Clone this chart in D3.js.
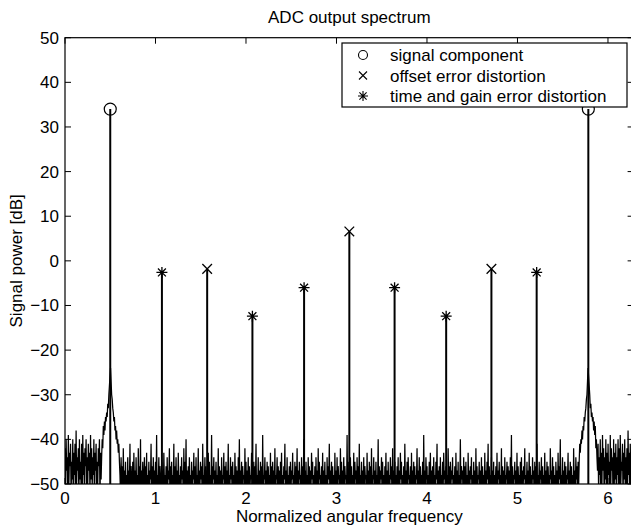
<!DOCTYPE html>
<html><head><meta charset="utf-8">
<script src="https://cdn.jsdelivr.net/npm/d3@7"></script>
<style>
body{margin:0;background:#fff;}
text{font-family:"Liberation Sans",Arial,Helvetica,sans-serif;fill:#000;}
</style></head>
<body><svg id="c" width="631" height="526"></svg>
<script>
// ---- data ----
const title = "ADC output spectrum";
const xLabel = "Normalized angular frequency";
const yLabel = "Signal power [dB]";
const xTicks = [0,1,2,3,4,5,6];
const yTicks = [-50,-40,-30,-20,-10,0,10,20,30,40,50];
const xDomain = [0, 2*Math.PI];
const yDomain = [-50, 50];

// signal component stems (circles)
const signalFreq = [0.5, 5.783];
const signalPow  = [34.0, 34.0];
// offset error distortion (x marks)
const offsetFreq = [1.571, 3.142, 4.712];
const offsetPow  = [-1.8, 6.6, -1.8];
// time and gain error distortion (asterisks)
const tgFreq = [1.071, 2.071, 2.642, 3.642, 4.212, 5.212];
const tgPow  = [-2.6, -12.4, -6.0, -6.0, -12.4, -2.6];

const legendLabels = ["signal component","offset error distortion","time and gain error distortion"];

// noise floor spectrum (1024 FFT bins over [0, 2pi)), dB
const spectrum = [
-42,-51,-40,-47,-44,-55,-39,-50,-43,-46,-41,-53,-45,-49,-40,-56,
-43,-48,-41,-52,-38,-50,-44,-47,-42,-54,-40,-49,-45,-51,-41,-57,
-39,-48,-43,-52,-42,-46,-40,-55,-44,-50,-41,-47,-43,-53,-39,-49,
-42,-51,-44,-48,-40,-56,-43,-47,-41,-52,-45,-50,-42,-46,-40,-54,
-43,-49,-44,-40,-42,-37,-39,-36,-38,-35,-36,-34,-35,-32,-33,-30,
-28,-26,-24,-27,-30,-31,-33,-34,-36,-35,-38,-37,-40,-38,-41,-40,
-43,-41,-45,-48,-53,-44,-50,-46,-55,-42,-51,-47,-52,-45,-58,-48,
-51,-44,-53,-47,-50,-41,-54,-46,-49,-52,-45,-56,-43,-50,-47,-53,
-44,-51,-48,-55,-42,-50,-46,-52,-40,-57,-47,-51,-45,-49,-53,-44,
-52,-46,-50,-43,-55,-48,-51,-45,-54,-47,-49,-41,-53,-46,-56,-44,
-50,-47,-52,-45,-51,-39,-55,-48,-50,-44,-53,-46,-49,-57,-45,-51,
-47,-54,-43,-50,-48,-52,-46,-56,-44,-51,-47,-49,-42,-55,-46,-50,
-45,-53,-48,-51,-41,-57,-46,-50,-44,-52,-47,-54,-43,-50,-48,-55,
-46,-51,-44,-49,-47,-56,-42,-52,-45,-50,-40,-54,-47,-51,-46,-53,
-44,-50,-48,-57,-45,-52,-47,-49,-43,-55,-46,-51,-44,-53,-48,-50,
-42,-56,-47,-51,-45,-49,-46,-54,-41,-52,-48,-50,-44,-57,-46,-51,
-47,-53,-43,-50,-45,-55,-48,-51,-39,-52,-46,-49,-44,-56,-47,-50,
-45,-53,-48,-51,-42,-54,-46,-50,-47,-57,-44,-52,-48,-49,-43,-55,
-46,-51,-45,-53,-47,-50,-41,-56,-48,-52,-44,-49,-46,-54,-45,-51,
-48,-55,-43,-50,-46,-52,-47,-57,-44,-51,-40,-53,-47,-50,-45,-54,
-46,-49,-48,-56,-42,-51,-45,-53,-47,-50,-44,-55,-46,-52,-48,-49,
-43,-57,-47,-51,-45,-54,-46,-50,-41,-53,-48,-51,-44,-56,-47,-52,
-45,-50,-46,-55,-39,-52,-48,-49,-44,-54,-47,-51,-45,-57,-46,-50,
-48,-53,-43,-51,-46,-56,-45,-50,-47,-52,-42,-55,-48,-49,-44,-54,
-46,-51,-47,-57,-45,-50,-43,-53,-48,-52,-46,-49,-41,-55,-47,-51,
-44,-54,-48,-50,-46,-56,-45,-52,-47,-49,-43,-53,-48,-51,-45,-57,
-46,-50,-42,-54,-47,-52,-45,-49,-48,-55,-44,-51,-46,-53,-40,-50,
-47,-56,-45,-51,-48,-53,-44,-50,-46,-54,-47,-52,-43,-49,-45,-55,
-48,-51,-46,-57,-44,-50,-47,-53,-42,-52,-45,-49,-48,-54,-46,-51,
-43,-55,-47,-50,-45,-52,-48,-56,-44,-51,-46,-49,-41,-53,-47,-50,
-45,-54,-46,-51,-48,-57,-43,-50,-47,-52,-44,-55,-46,-49,-48,-53,
-42,-51,-45,-56,-47,-50,-44,-53,-46,-49,-48,-54,-39,-52,-45,-51,
-47,-55,-44,-50,-46,-53,-48,-51,-43,-57,-45,-49,-47,-54,-44,-50,
-46,-52,-41,-55,-48,-50,-45,-53,-47,-51,-44,-56,-46,-49,-48,-54,
-43,-51,-47,-57,-45,-50,-46,-52,-42,-54,-48,-49,-44,-55,-47,-51,
-45,-53,-48,-50,-40,-56,-46,-52,-47,-49,-44,-54,-45,-51,-48,-57,
-46,-50,-43,-53,-47,-55,-45,-51,-48,-52,-44,-49,-46,-56,-42,-50,
-47,-54,-45,-51,-48,-53,-46,-50,-44,-57,-47,-52,-43,-49,-45,-55,
-48,-51,-46,-54,-41,-50,-47,-53,-45,-56,-44,-49,-48,-52,-46,-55,
-43,-51,-47,-50,-45,-57,-46,-53,-48,-49,-42,-54,-47,-51,-44,-56,
-46,-50,-48,-52,-45,-55,-39,-51,-47,-53,-44,-49,-46,-57,-48,-50,
-45,-54,-43,-51,-47,-52,-46,-56,-44,-50,-48,-53,-45,-49,-41,-55,
-47,-51,-46,-57,-44,-50,-48,-54,-45,-52,-43,-49,-47,-55,-46,-51,
-48,-53,-42,-50,-46,-56,-45,-51,-47,-49,-44,-54,-48,-52,-46,-57,
-43,-50,-47,-53,-45,-55,-48,-51,-40,-52,-46,-49,-47,-56,-44,-50,
-46,-54,-45,-51,-48,-57,-43,-50,-47,-53,-46,-49,-44,-55,-48,-52,
-45,-50,-47,-56,-42,-51,-46,-53,-48,-49,-45,-54,-47,-52,-44,-57,
-46,-50,-48,-55,-43,-51,-47,-52,-45,-49,-41,-56,-46,-50,-48,-53,
-44,-54,-47,-51,-45,-57,-48,-50,-46,-52,-43,-55,-47,-49,-45,-53,
-48,-51,-42,-56,-46,-50,-47,-54,-44,-52,-48,-49,-45,-57,-46,-51,
-47,-53,-44,-50,-39,-55,-46,-52,-48,-49,-45,-54,-47,-51,-43,-56,
-46,-50,-48,-53,-45,-57,-44,-51,-47,-52,-46,-49,-42,-55,-48,-50,
-45,-54,-47,-51,-43,-56,-46,-50,-48,-53,-44,-49,-47,-57,-45,-52,
-46,-50,-41,-55,-48,-51,-45,-53,-47,-49,-44,-56,-46,-52,-48,-50,
-43,-54,-47,-51,-45,-57,-46,-50,-48,-53,-42,-49,-47,-55,-44,-51,
-46,-52,-48,-56,-45,-50,-47,-54,-43,-51,-46,-49,-40,-55,-48,-50,
-44,-53,-47,-51,-45,-57,-46,-52,-48,-49,-43,-55,-47,-50,-45,-54,
-46,-51,-48,-56,-42,-50,-47,-53,-44,-49,-46,-55,-45,-51,-45,-41,
-43,-40,-41,-38,-40,-37,-38,-35,-36,-34,-33,-31,-30,-27,-24,-26,
-28,-30,-33,-32,-35,-34,-36,-35,-38,-36,-39,-37,-42,-40,-44,-47,
-41,-52,-44,-48,-40,-55,-43,-50,-39,-47,-42,-53,-44,-49,-40,-56,
-43,-51,-41,-48,-45,-54,-39,-50,-42,-47,-44,-55,-40,-52,-43,-49,
-41,-57,-44,-48,-40,-51,-42,-53,-39,-50,-45,-47,-41,-54,-43,-49,
-40,-52,-44,-50,-42,-55,-38,-48,-43,-51,-41,-53,-44,-49,-40,-56
];

// ---- layout ----
const svg = d3.select("#c");
const L = 65, T = 37.7, R = 633.6, B = 484;
const x = d3.scaleLinear().domain(xDomain).range([L, R]);
const y = d3.scaleLinear().domain(yDomain).range([B, T]);
const FS = 17;

svg.append("defs").append("clipPath").attr("id","clip")
  .append("rect").attr("x",L).attr("y",T).attr("width",R-L).attr("height",B-T);

const plot = svg.append("g").attr("clip-path","url(#clip)");

// noise spectrum line
const nBins = spectrum.length;
const line = d3.line().x((d,i)=>x(i*2*Math.PI/nBins)).y(d=>y(d));
plot.append("path").datum(spectrum).attr("d",line)
  .attr("fill","none").attr("stroke","#000").attr("stroke-width",1.25);

// stems
function stems(freqs, pows){
  plot.selectAll(null).data(freqs).enter().append("line")
    .attr("x1",d=>x(d)).attr("x2",d=>x(d))
    .attr("y1",y(yDomain[0])).attr("y2",(d,i)=>y(pows[i]))
    .attr("stroke","#000").attr("stroke-width",2);
}
stems(signalFreq, signalPow);
stems(offsetFreq, offsetPow);
stems(tgFreq, tgPow);

// marker paths
function xMark(s){return `M${-s},${-s}L${s},${s}M${-s},${s}L${s},${-s}`;}
function star(s){const d=s*0.72;return `M${-s},0L${s},0M0,${-s}L0,${s}M${-d},${-d}L${d},${d}M${-d},${d}L${d},${-d}`;}

const mk = svg.append("g");
signalFreq.forEach((f,i)=>{
  mk.append("circle").attr("cx",x(f)).attr("cy",y(signalPow[i])).attr("r",6)
    .attr("fill","none").attr("stroke","#000").attr("stroke-width",1.2);
});
offsetFreq.forEach((f,i)=>{
  mk.append("path").attr("transform",`translate(${x(f)},${y(offsetPow[i])})`)
    .attr("d",xMark(4.8)).attr("stroke","#000").attr("stroke-width",1.3).attr("fill","none");
});
tgFreq.forEach((f,i)=>{
  mk.append("path").attr("transform",`translate(${x(f)},${y(tgPow[i])})`)
    .attr("d",star(5.5)).attr("stroke","#000").attr("stroke-width",1.3).attr("fill","none");
});

// axes box and ticks
const ax = svg.append("g");
ax.append("rect").attr("x",L).attr("y",T).attr("width",R-L).attr("height",B-T)
  .attr("fill","none").attr("stroke","#000").attr("stroke-width",1.2);
const TL = 6;
xTicks.forEach(t=>{
  ax.append("line").attr("x1",x(t)).attr("x2",x(t)).attr("y1",B).attr("y2",B-TL).attr("stroke","#000");
  ax.append("line").attr("x1",x(t)).attr("x2",x(t)).attr("y1",T).attr("y2",T+TL).attr("stroke","#000");
});
yTicks.forEach(t=>{
  ax.append("line").attr("x1",L).attr("x2",L+TL).attr("y1",y(t)).attr("y2",y(t)).attr("stroke","#000");
  ax.append("line").attr("x1",R).attr("x2",R-TL).attr("y1",y(t)).attr("y2",y(t)).attr("stroke","#000");
});
const fmt = d3.format("d");
ax.selectAll(null).data(xTicks).enter().append("text")
  .attr("x",d=>x(d)).attr("y",B+20).attr("text-anchor","middle")
  .attr("font-size",FS).text(d=>fmt(d));
ax.selectAll(null).data(yTicks).enter().append("text")
  .attr("x",L-6).attr("y",d=>y(d)+6).attr("text-anchor","end")
  .attr("font-size",FS).text(d=>fmt(d));

// labels
svg.append("text").attr("x",(L+R)/2).attr("y",23).attr("text-anchor","middle")
  .attr("font-size",FS).text(title);
svg.append("text").attr("x",(L+R)/2).attr("y",522).attr("text-anchor","middle")
  .attr("font-size",FS).text(xLabel);
svg.append("text").attr("transform",`translate(22,${(T+B)/2}) rotate(-90)`)
  .attr("text-anchor","middle").attr("font-size",FS).text(yLabel);

// legend
const lg = svg.append("g");
lg.append("rect").attr("x",342).attr("y",43).attr("width",285).attr("height",64)
  .attr("fill","#fff").attr("stroke","#000").attr("stroke-width",1.2);
const rows = [55, 75.5, 96];
const mx = 363;
lg.append("circle").attr("cx",mx).attr("cy",rows[0]).attr("r",4.5)
  .attr("fill","none").attr("stroke","#000").attr("stroke-width",1.1);
lg.append("path").attr("transform",`translate(${mx},${rows[1]})`).attr("d",xMark(4))
  .attr("stroke","#000").attr("stroke-width",1.1);
lg.append("path").attr("transform",`translate(${mx},${rows[2]})`).attr("d",star(5))
  .attr("stroke","#000").attr("stroke-width",1.1);
legendLabels.forEach((s,i)=>{
  lg.append("text").attr("x",390).attr("y",rows[i]+6).attr("font-size",FS).text(s);
});
</script></body></html>
